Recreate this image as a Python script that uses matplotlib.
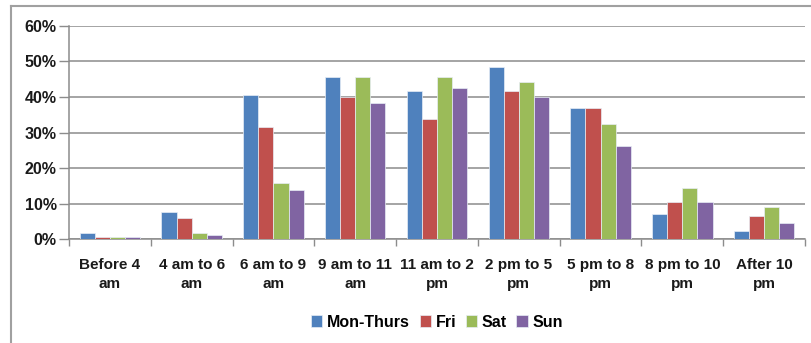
import matplotlib
matplotlib.use('Agg')
import matplotlib.pyplot as plt
from matplotlib.lines import Line2D
from matplotlib.ticker import PercentFormatter
import numpy as np

# Share of trips by departure time, per day type
categories = ["Before 4\nam", "4 am to 6\nam", "6 am to 9\nam", "9 am to 11\nam",
              "11 am to 2\npm", "2 pm to 5\npm", "5 pm to 8\npm", "8 pm to 10\npm",
              "After 10\npm"]
mon_thurs = [1.6, 7.5, 40.6, 45.5, 41.7, 48.5, 36.8, 7.0, 2.2]
fri = [0.7, 6.0, 31.5, 39.9, 33.9, 41.7, 36.8, 10.4, 6.5]
sat = [0.7, 1.6, 15.8, 45.5, 45.5, 44.1, 32.3, 14.3, 8.9]
sun = [0.7, 1.1, 13.8, 38.2, 42.6, 40.1, 26.2, 10.4, 4.6]

series = [("Mon-Thurs", mon_thurs, "#4F81BD"),
          ("Fri", fri, "#C0504D"),
          ("Sat", sat, "#9BBB59"),
          ("Sun", sun, "#8064A2")]

plt.rcParams['font.family'] = ['Liberation Sans Narrow', 'Liberation Sans', 'DejaVu Sans']
plt.rcParams['font.weight'] = 'bold'

fig = plt.figure(figsize=(8.11, 3.43), dpi=100)
ax = fig.add_axes([0.0851, 0.3032, 0.9075, 0.621])

x = np.arange(len(categories))
w = 0.185
for i, (name, vals, col) in enumerate(series):
    ax.bar(x + (i - 1.5) * w, vals, w, color=col, edgecolor="#E8EEF6",
           linewidth=0.5, label=name, zorder=3)

ax.set_xlim(-0.5, len(categories) - 0.5)
ax.set_ylim(0, 60)
ax.set_yticks(range(0, 61, 10))
ax.yaxis.set_major_formatter(PercentFormatter(decimals=0))
ax.set_xticks(x)
ax.set_xticklabels(categories, fontsize=11, fontweight='bold', linespacing=1.45)
ax.set_xticks(np.arange(-0.5, len(categories), 1), minor=True)
ax.tick_params(axis='x', which='major', length=0, pad=14, colors="#1A1A1A")
ax.tick_params(axis='x', which='minor', length=5, color="#8C8C8C", width=1)
ax.tick_params(axis='y', length=7, color="#8C8C8C", width=1, labelsize=11.5,
               pad=2, labelcolor="#1A1A1A")
for lab in ax.get_yticklabels():
    lab.set_fontweight('bold')

ax.grid(axis='y', color="#8C8C8C", linewidth=1.1, zorder=0)
for s in ['top', 'right']:
    ax.spines[s].set_visible(False)
for s in ['left', 'bottom']:
    ax.spines[s].set_color("#8C8C8C")
    ax.spines[s].set_linewidth(1.1)

ax.legend(loc='center', bbox_to_anchor=(0.5, -0.39), ncol=4, frameon=False,
          handlelength=0.7, handleheight=0.7, handletextpad=0.3,
          columnspacing=0.6, prop={'size': 11.5, 'weight': 'bold'})

# outer chart border (left and top edges)
fig.add_artist(Line2D([11 / 811, 11 / 811], [0, 1 - 6 / 343],
                      transform=fig.transFigure, color="#A0A0A0", lw=1.5))
fig.add_artist(Line2D([11 / 811, 1], [1 - 6 / 343, 1 - 6 / 343],
                      transform=fig.transFigure, color="#A0A0A0", lw=1.5))

plt.savefig("out.png", dpi=100)
plt.close()
